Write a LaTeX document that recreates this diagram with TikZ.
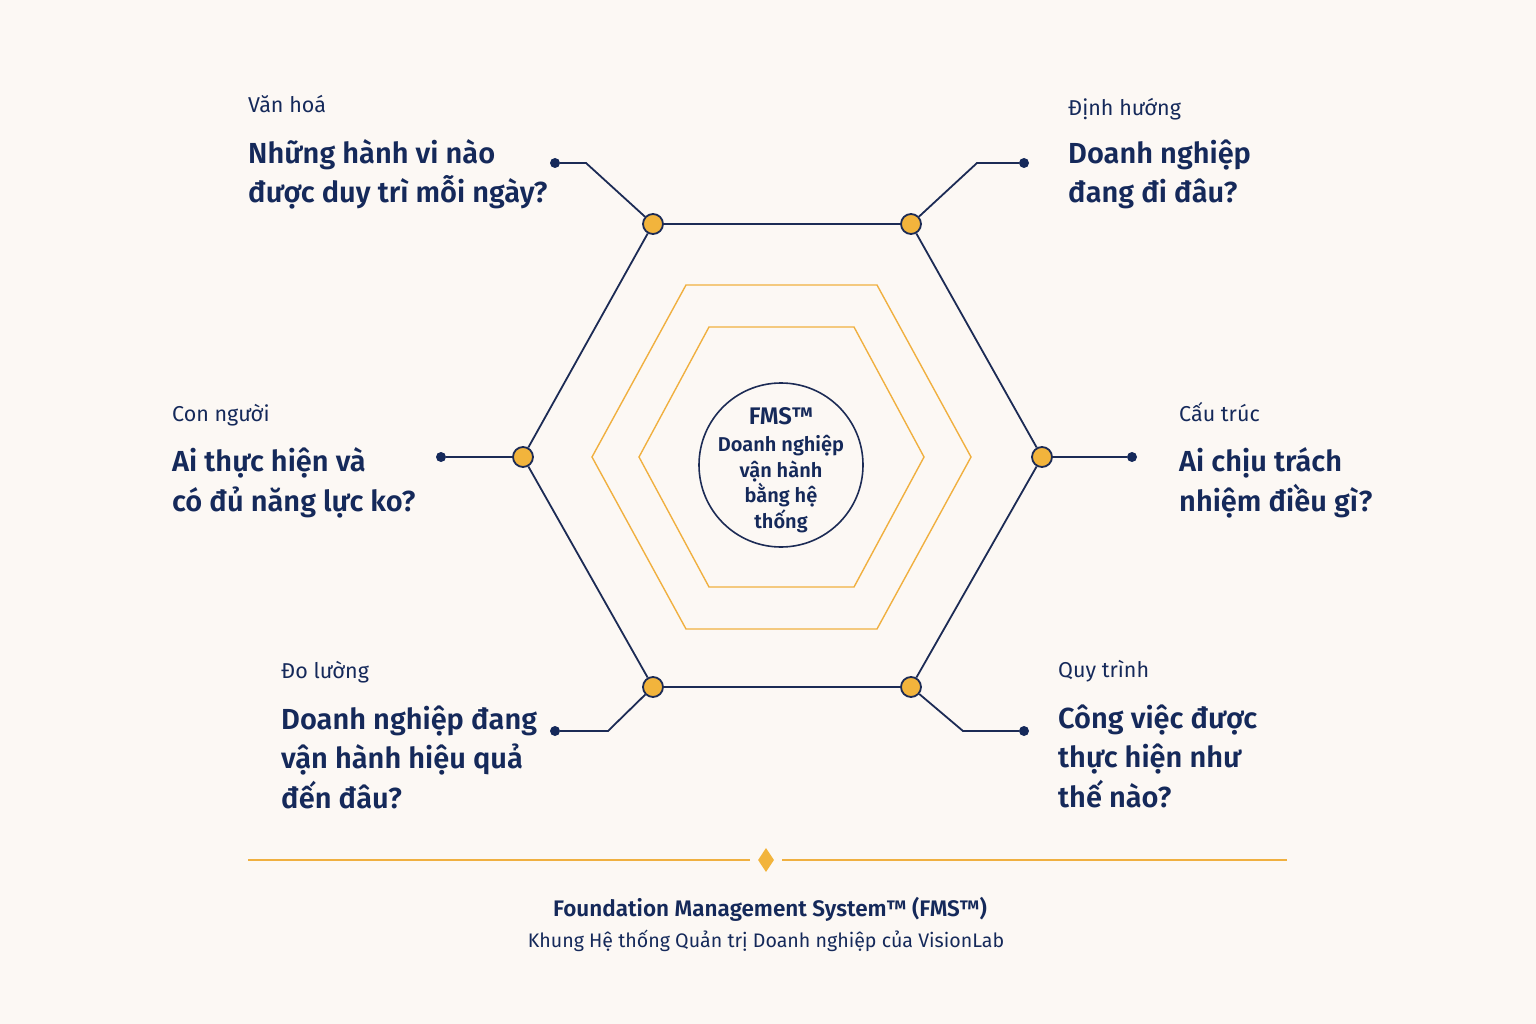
\documentclass[tikz,border=0pt]{standalone}
\usepackage{fontspec}
\setmainfont{Fira Sans}[BoldFont={Fira Sans SemiBold}]
\usetikzlibrary{shapes.geometric}
\definecolor{bgc}{HTML}{FCF8F4}
\definecolor{navy}{HTML}{15295A}
\definecolor{lnavy}{HTML}{1C2B55}
\definecolor{gold}{HTML}{F2B43C}
\definecolor{hgold}{HTML}{F0B040}
\tikzset{
  hub/.style={circle,fill=gold,draw=lnavy,line width=1.8pt,minimum size=20pt,inner sep=0pt},
  tip/.style={circle,fill=navy,minimum size=10pt,inner sep=0pt},
  conn/.style={draw=lnavy,line width=1.8pt},
  lbl/.style={anchor=base west,inner sep=0pt,text=navy,font=\fontsize{21.5}{24}\selectfont},
  ttl/.style={anchor=base west,inner sep=0pt,text=navy,align=left,font=\fontsize{29}{39.5}\selectfont\bfseries},
  goldline/.style={draw=hgold,line width=1.4pt},
}
\begin{document}
\begin{tikzpicture}[x=1pt,y=-1pt]
\fill[bgc] (0,0) rectangle (1536,1024);
\useasboundingbox (0,0) rectangle (1536,1024);
% gold hexagons
\draw[goldline] (686,285) -- (877,285) -- (971,457) -- (877,629) -- (686,629) -- (592,457) -- cycle;
\draw[goldline] (709,327) -- (854,327) -- (924,457) -- (854,587) -- (709,587) -- (639,457) -- cycle;
% centre circle
\node[circle,draw=lnavy,line width=1.6pt,minimum size=164pt,inner sep=0pt] (core) at (781,465) {};
\node[text=navy,align=center,inner sep=0pt,anchor=base,font=\fontsize{20}{25.5}\selectfont\bfseries] (coretxt) at (781,528)
  {{\fontsize{24}{25.5}\selectfont FMS™}\\[2pt]
   Doanh nghiệp\\
   vận hành\\
   bằng hệ\\
   thống};
% hubs
\node[hub] (h1) at (653,224) {};
\node[hub] (h2) at (911,224) {};
\node[hub] (h3) at (1042,457) {};
\node[hub] (h4) at (911,687) {};
\node[hub] (h5) at (653,687) {};
\node[hub] (h6) at (523,457) {};
\draw[conn] (h1) -- (h2) -- (h3) -- (h4) -- (h5) -- (h6) -- (h1);
% tips
\node[tip] (d1) at (555,163) {};
\node[tip] (d2) at (1024,163) {};
\node[tip] (d3) at (1132,457) {};
\node[tip] (d4) at (1024,731) {};
\node[tip] (d5) at (555,731) {};
\node[tip] (d6) at (441,457) {};
\coordinate (b1) at (586,163);
\coordinate (b2) at (977,163);
\coordinate (b4) at (963,731);
\coordinate (b5) at (608,731);
\draw[conn] (h1) -- (b1) -- (d1);
\draw[conn] (h2) -- (b2) -- (d2);
\draw[conn] (h3) -- (d3);
\draw[conn] (h4) -- (b4) -- (d4);
\draw[conn] (h5) -- (b5) -- (d5);
\draw[conn] (h6) -- (d6);
% texts (base = last line)
\node[lbl] (l1) at (248,113) {Văn hoá};
\node[ttl] (t1) at (248,203) {Những hành vi nào\\được duy trì mỗi ngày?};
\node[lbl] (l2) at (1068,116) {Định hướng};
\node[ttl] (t2) at (1068,203) {Doanh nghiệp\\đang đi đâu?};
\node[lbl] (l6) at (172,421) {Con người};
\node[ttl] (t6) at (172,511) {Ai thực hiện và\\có đủ năng lực ko?};
\node[lbl] (l3) at (1179,421) {Cấu trúc};
\node[ttl] (t3) at (1179,511) {Ai chịu trách\\nhiệm điều gì?};
\node[lbl] (l5) at (281,678) {Đo lường};
\node[ttl] (t5) at (281,808) {Doanh nghiệp đang\\vận hành hiệu quả\\đến đâu?};
\node[lbl] (l4) at (1058,677) {Quy trình};
\node[ttl] (t4) at (1058,807) {Công việc được\\thực hiện như\\thế nào?};
% footer
\node[diamond,fill=gold,minimum width=16pt,minimum height=24pt,inner sep=0pt] (dia) at (766,860) {};
\coordinate (fl) at (248,860);
\coordinate (fr) at (1287,860);
\draw[goldline] (fl) -- ([xshift=-8pt]dia.west);
\draw[goldline] ([xshift=8pt]dia.east) -- (fr);
\node[anchor=base,inner sep=0pt,text=navy,font=\fontsize{22.5}{25}\selectfont\bfseries] (f1) at (770,916) {Foundation Management System™ (FMS™)};
\node[anchor=base,inner sep=0pt,text=navy,font=\fontsize{19.6}{22}\selectfont] (f2) at (766,947) {Khung Hệ thống Quản trị Doanh nghiệp của VisionLab};
\end{tikzpicture}
\end{document}
